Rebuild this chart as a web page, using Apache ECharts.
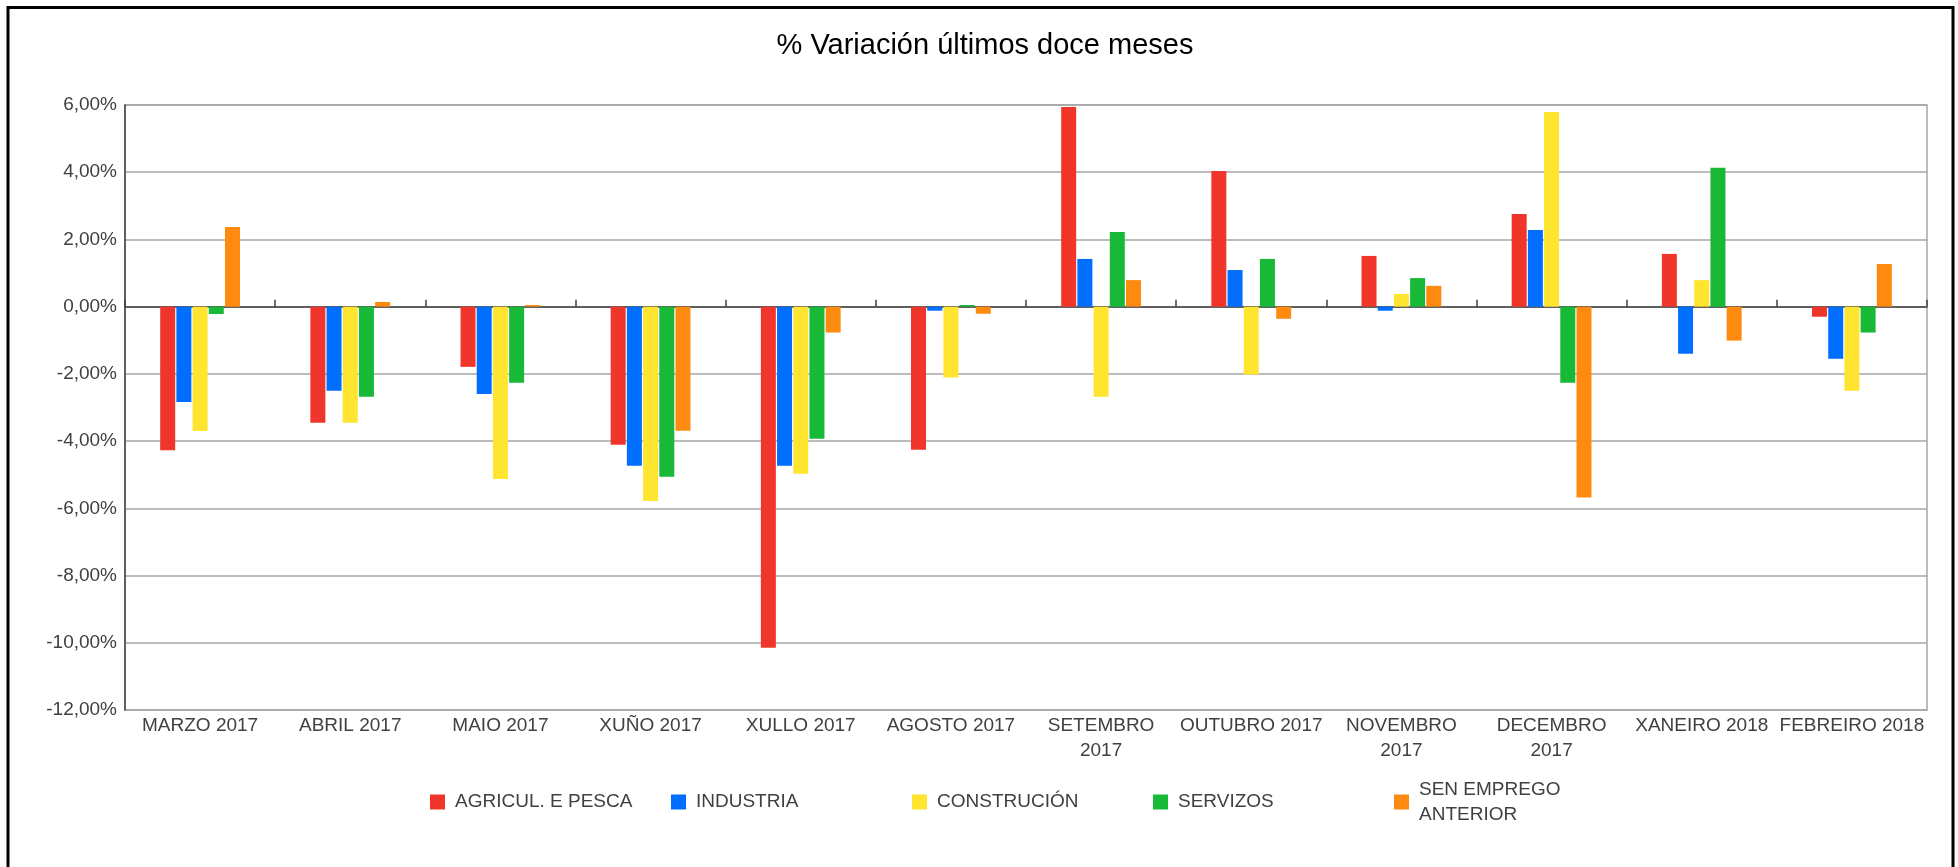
<!DOCTYPE html>
<html>
<head>
<meta charset="utf-8">
<script src="https://cdn.jsdelivr.net/npm/echarts@6/dist/echarts.min.js"></script>
<style>
html,body{margin:0;padding:0;background:#fff;}
#chart{width:1958px;height:867px;}
</style>
</head>
<body>
<div id="chart"></div>
<script>
const categories = ['MARZO 2017','ABRIL 2017','MAIO 2017','XUÑO 2017','XULLO 2017','AGOSTO 2017','SETEMBRO 2017','OUTUBRO 2017','NOVEMBRO 2017','DECEMBRO 2017','XANEIRO 2018','FEBREIRO 2018'];
const seriesNames = ['AGRICUL. E PESCA','INDUSTRIA','CONSTRUCIÓN','SERVIZOS','SEN EMPREGO ANTERIOR'];
const agricultura = [-4.27, -3.45, -1.79, -4.11, -10.15, -4.26, 5.94, 4.04, 1.51, 2.76, 1.57, -0.30];
const industria   = [-2.84, -2.50, -2.60, -4.73, -4.73, -0.12, 1.42, 1.09, -0.12, 2.28, -1.40, -1.55];
const construcion = [-3.70, -3.45, -5.13, -5.78, -4.97, -2.11, -2.68, -2.02, 0.38, 5.79, 0.79, -2.50];
const servizos    = [-0.22, -2.68, -2.26, -5.06, -3.93, 0.05, 2.22, 1.42, 0.85, -2.26, 4.13, -0.77];
const senEmprego  = [2.37, 0.14, 0.05, -3.69, -0.77, -0.21, 0.79, -0.36, 0.62, -5.68, -1.01, 1.27];
const yTicks = { min: -12, max: 6, interval: 2 };

const colors = ['#f0362a', '#006eff', '#ffe52f', '#17b937', '#ff8a10'];
const seriesData = [agricultura, industria, construcion, servizos, senEmprego];
const wrapLabels = { 'SETEMBRO 2017': 'SETEMBRO\n2017', 'NOVEMBRO 2017': 'NOVEMBRO\n2017', 'DECEMBRO 2017': 'DECEMBRO\n2017' };
const FONT = "'Liberation Sans', Arial, sans-serif";

const chart = echarts.init(document.getElementById('chart'), null, { renderer: 'canvas' });
chart.setOption({
  animation: false,
  backgroundColor: '#fff',
  textStyle: { fontFamily: FONT },
  title: {
    text: '% Variación últimos doce meses',
    left: 985, top: 46, padding: 0, textAlign: 'center', textVerticalAlign: 'middle',
    textStyle: { fontFamily: FONT, fontSize: 29, fontWeight: 'normal', color: '#000' }
  },
  graphic: [{
    type: 'rect', silent: true, z: 100,
    shape: { x: 8, y: 7.5, width: 1945, height: 1000 },
    style: { fill: 'none', stroke: '#000', lineWidth: 3 }
  }],
  legend: {
    left: 430, top: 777, padding: 0,
    itemWidth: 15, itemHeight: 15, itemGap: 10,
    icon: 'rect',
    data: seriesNames,
    formatter: function (n) { return n === 'SEN EMPREGO ANTERIOR' ? 'SEN EMPREGO\nANTERIOR' : n; },
    textStyle: { fontFamily: FONT, fontSize: 19, color: '#404040', width: 206, lineHeight: 25, padding: [0, 0, 0, 5] }
  },
  grid: {
    left: 125, right: 31, top: 105, bottom: 157,
    show: true, borderColor: '#a6a6a6', borderWidth: 1.5, backgroundColor: 'transparent'
  },
  xAxis: {
    type: 'category',
    data: categories,
    boundaryGap: true,
    axisLine: { lineStyle: { color: '#404040', width: 1.5 } },
    axisTick: { show: true, inside: true, length: 7, lineStyle: { color: '#404040', width: 1.5 } },
    axisLabel: {
      interval: 0, margin: 3, fontFamily: FONT, fontSize: 19, color: '#404040', lineHeight: 25,
      formatter: function (v) { return wrapLabels[v] || v; }
    },
    splitLine: { show: false }
  },
  yAxis: {
    type: 'value',
    min: yTicks.min, max: yTicks.max, interval: yTicks.interval,
    axisLine: { show: true, lineStyle: { color: '#404040', width: 1.5 } },
    axisTick: { show: false },
    axisLabel: {
      margin: 8, fontFamily: FONT, fontSize: 19, color: '#404040',
      formatter: function (v) { return v.toFixed(2).replace('.', ',') + '%'; }
    },
    splitLine: { show: true, lineStyle: { color: '#a6a6a6', width: 1.5 } }
  },
  series: seriesNames.map(function (name, i) {
    return {
      name: name, type: 'bar', data: seriesData[i],
      barWidth: 15, barGap: '8%',
      itemStyle: { color: colors[i] }
    };
  })
});
</script>
</body>
</html>
